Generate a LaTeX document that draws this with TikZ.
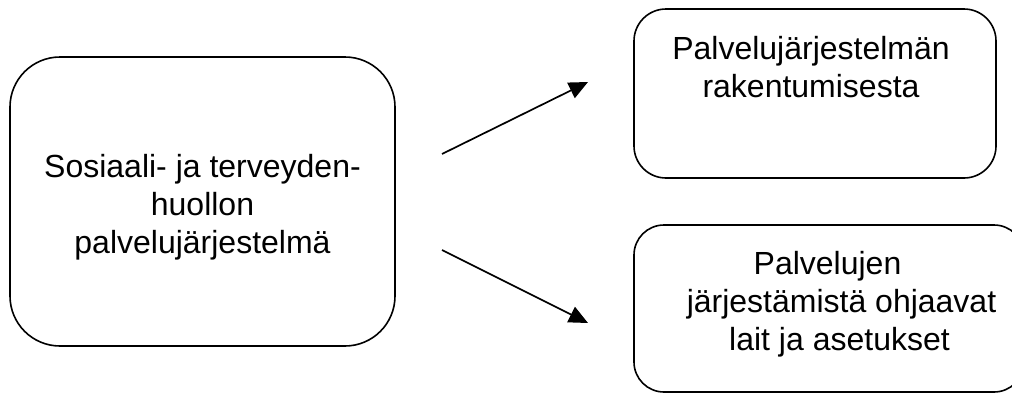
\documentclass[tikz,border=0pt]{standalone}
\usepackage{fontspec}
\setmainfont{Liberation Sans}
\usetikzlibrary{arrows.meta}
\begin{document}
\begin{tikzpicture}[x=1pt,y=-1pt,
  box/.style={draw, line width=1.6pt, rectangle, inner sep=0pt},
  lbl/.style={font=\fontsize{32}{38}\selectfont, inner sep=0pt, anchor=base},
  conn/.style={line width=1.7pt, -{Triangle[length=19pt,width=17pt]}}]
\useasboundingbox (0,0) rectangle (1012,394);
\clip (0,0) rectangle (1012,394);
% boxes
\node[box, rounded corners=50pt, minimum width=385pt, minimum height=289pt] (src) at (202.5,201.5) {};
\node[box, rounded corners=32pt, minimum width=362pt, minimum height=169pt] (top) at (815,93.5) {};
\node[box, rounded corners=30pt, minimum width=390pt, minimum height=167pt] (bot) at (829,308.5) {};
% labels
\node[lbl] (s1) at (202.5,177) {Sosiaali- ja terveyden-};
\node[lbl] (s2) at (202.5,215) {huollon};
\node[lbl] (s3) at (202.5,253) {palvelujärjestelmä};
\node[lbl] (t1) at (811,59) {Palvelujärjestelmän};
\node[lbl] (t2) at (811,97) {rakentumisesta};
\node[lbl] (b1) at (827.5,274.5) {Palvelujen};
\node[lbl] (b2) at (841.5,312) {järjestämistä ohjaavat};
\node[lbl] (b3) at (839.5,350) {lait ja asetukset};
% connectors
\coordinate (a1s) at (442,154);
\coordinate (a1e) at (588,82);
\coordinate (a2s) at (442,250);
\coordinate (a2e) at (588,323);
\draw[conn] (a1s) -- (a1e);
\draw[conn] (a2s) -- (a2e);
\end{tikzpicture}
\end{document}
